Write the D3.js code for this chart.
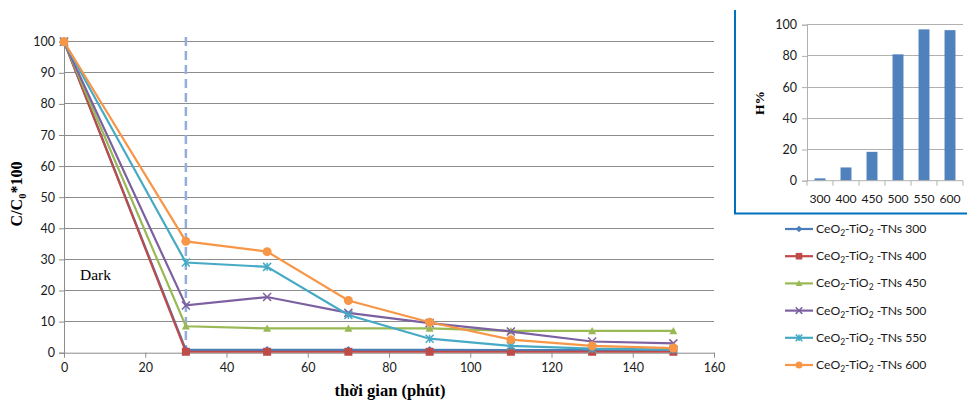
<!DOCTYPE html>
<html>
<head>
<meta charset="utf-8">
<script src="https://cdn.jsdelivr.net/npm/d3@7"></script>
<style>
  body { margin: 0; background: #fff; }
  svg { display: block; }
  .tick text { font-family: Lato, "Open Sans", sans-serif; font-size: 12.5px; fill: #1a1a1a; }
</style>
</head>
<body>
<svg id="chart" width="967" height="400"></svg>
<script>
// time points (phút)
const times = [0, 30, 50, 70, 90, 110, 130, 150];

const s300 = [100, 0.9, 0.9, 0.9, 0.9, 0.8, 0.8, 0.6];
const s400 = [100, 0.3, 0.3, 0.3, 0.3, 0.3, 0.3, 0.3];
const s450 = [100, 8.5, 7.8, 7.8, 7.8, 7.0, 7.0, 7.0];
const s500 = [100, 15.2, 17.9, 12.8, 9.5, 6.8, 3.6, 3.0];
const s550 = [100, 29.0, 27.6, 12.1, 4.5, 2.2, 1.3, 1.0];
const s600 = [100, 35.8, 32.5, 16.8, 9.8, 4.2, 2.2, 1.5];

const seriesNames = ["300", "400", "450", "500", "550", "600"];
const seriesColors = ["#4A7EBB", "#BE4B48", "#98B954", "#7D60A0", "#46AAC5", "#F79646"];
const seriesMarkers = ["diamond", "square", "triangle", "x", "asterisk", "circle"];

const xTicks = [0, 20, 40, 60, 80, 100, 120, 140, 160];
const yTicks = [0, 10, 20, 30, 40, 50, 60, 70, 80, 90, 100];

// inset: hiệu suất H% theo nhiệt độ
const insetCats = ["300", "400", "450", "500", "550", "600"];
const insetVals = [1.5, 8.5, 18.5, 81, 97, 96.5];
const insetTicks = [0, 20, 40, 60, 80, 100];

const series = [s300, s400, s450, s500, s550, s600].map((v, i) => ({
  name: seriesNames[i], color: seriesColors[i], marker: seriesMarkers[i],
  values: v.map((y, j) => ({ t: times[j], y: y }))
}));

const svg = d3.select("#chart");

const x = d3.scaleLinear().domain([0, 160]).range([64, 714]);
const y = d3.scaleLinear().domain([0, 100]).range([352.7, 41.7]);

// grid
svg.append("g")
  .selectAll("line")
  .data(yTicks.filter(d => d > 0))
  .join("line")
  .attr("x1", x(0)).attr("x2", x(160))
  .attr("y1", d => y(d)).attr("y2", d => y(d))
  .attr("stroke", "#8c8c8c").attr("stroke-width", 1)
  .attr("shape-rendering", "crispEdges");

const yAxis = svg.append("g")
  .attr("transform", `translate(${x(0)},0)`)
  .call(d3.axisLeft(y).tickValues(yTicks).tickSize(5).tickPadding(4));
yAxis.selectAll("line, path").attr("stroke", "#8c8c8c");

const xAxis = svg.append("g")
  .attr("transform", `translate(0,${y(0)})`)
  .call(d3.axisBottom(x).tickValues(xTicks).tickSize(5).tickPadding(5).tickSizeOuter(0));
xAxis.selectAll("line, path").attr("stroke", "#8c8c8c");

// dashed "dark" boundary
svg.append("line")
  .attr("x1", x(30)).attr("x2", x(30))
  .attr("y1", 37).attr("y2", y(0))
  .attr("stroke", "#94AEDA").attr("stroke-width", 2.5)
  .attr("stroke-dasharray", "9,5");

const line = d3.line().x(d => x(d.t)).y(d => y(d.y));

function drawMarker(g, type, color, size) {
  const s = size;
  if (type === "diamond") {
    g.append("path").attr("d", `M0,${-s}L${s},0L0,${s}L${-s},0Z`).attr("fill", color);
  } else if (type === "square") {
    g.append("rect").attr("x", -s).attr("y", -s).attr("width", 2 * s).attr("height", 2 * s).attr("fill", color);
  } else if (type === "triangle") {
    g.append("path").attr("d", `M0,${-s}L${s},${s * 0.8}L${-s},${s * 0.8}Z`).attr("fill", color);
  } else if (type === "x") {
    g.append("path").attr("d", `M${-s},${-s}L${s},${s}M${-s},${s}L${s},${-s}`)
      .attr("stroke", color).attr("stroke-width", 1.5);
  } else if (type === "asterisk") {
    g.append("path").attr("d", `M${-s},${-s}L${s},${s}M${-s},${s}L${s},${-s}M0,${-s}L0,${s}`)
      .attr("stroke", color).attr("stroke-width", 1.5);
  } else {
    g.append("circle").attr("r", s).attr("fill", color);
  }
}

series.forEach(s => {
  svg.append("path")
    .datum(s.values)
    .attr("fill", "none")
    .attr("stroke", s.color)
    .attr("stroke-width", 2.2)
    .attr("d", line);
  s.values.forEach(d => {
    const g = svg.append("g").attr("transform", `translate(${x(d.t)},${y(d.y)})`);
    drawMarker(g, s.marker, s.color, s.marker === "circle" ? 4.5 : 4);
  });
});

svg.append("text")
  .attr("x", 80).attr("y", 280)
  .attr("font-family", "'Liberation Serif', 'DejaVu Serif', serif")
  .attr("font-size", 15.5)
  .text("Dark");

// axis titles
const yTitle = svg.append("text")
  .attr("transform", "translate(22,194) rotate(-90)")
  .attr("text-anchor", "middle")
  .attr("font-family", "'Liberation Serif', serif")
  .attr("font-weight", "bold")
  .attr("font-size", 16);
yTitle.append("tspan").text("C/C");
yTitle.append("tspan").attr("font-size", 10.5).attr("dy", 4).text("0");
yTitle.append("tspan").attr("dy", -4).text("*100");

svg.append("text")
  .attr("x", 390).attr("y", 396)
  .attr("text-anchor", "middle")
  .attr("font-family", "'Liberation Serif', serif")
  .attr("font-weight", "bold")
  .attr("font-size", 16.5)
  .text("thời gian (phút)");

// legend
const legend = svg.append("g");
series.forEach((s, i) => {
  const ly = 229 + i * 27.2;
  const g = legend.append("g").attr("transform", `translate(785,${ly})`);
  g.append("line").attr("x1", 0).attr("x2", 28).attr("stroke", s.color).attr("stroke-width", 2.2);
  const mg = g.append("g").attr("transform", "translate(14,0)");
  drawMarker(mg, s.marker, s.color, s.marker === "circle" ? 3.5 : 3.3);
  const t = g.append("text").attr("x", 31).attr("y", 4)
    .attr("font-family", "Lato, 'Open Sans', sans-serif").attr("font-size", 12.2).attr("fill", "#1a1a1a");
  t.append("tspan").text("CeO");
  t.append("tspan").attr("font-size", 8.5).attr("dy", 3).text("2");
  t.append("tspan").attr("dy", -3).text("-TiO");
  t.append("tspan").attr("font-size", 8.5).attr("dy", 3).text("2");
  t.append("tspan").attr("dy", -3).text(" -TNs " + s.name);
});

// inset bar chart
const inset = svg.append("g");
inset.append("path")
  .attr("d", "M735,10V213.5H967")
  .attr("fill", "none").attr("stroke", "#0070C0").attr("stroke-width", 2);

const bx = d3.scaleBand().domain(insetCats).range([807, 963]).paddingInner(0.58).paddingOuter(0.29);
const by = d3.scaleLinear().domain([0, 100]).range([180.7, 24.7]);

inset.append("g")
  .selectAll("line")
  .data(insetTicks.filter(d => d > 0))
  .join("line")
  .attr("x1", 807).attr("x2", 963)
  .attr("y1", d => by(d)).attr("y2", d => by(d))
  .attr("stroke", "#b0b0b0").attr("shape-rendering", "crispEdges");

const iy = inset.append("g").attr("transform", "translate(807,0)")
  .call(d3.axisLeft(by).tickValues(insetTicks).tickSize(5).tickPadding(5));
iy.selectAll("line, path").attr("stroke", "#b0b0b0");

inset.selectAll("rect.bar")
  .data(insetVals)
  .join("rect")
  .attr("class", "bar")
  .attr("x", (d, i) => bx(insetCats[i]))
  .attr("width", bx.bandwidth())
  .attr("y", d => by(d))
  .attr("height", d => by(0) - by(d))
  .attr("fill", "#4F81BD");

const ix = inset.append("g").attr("transform", `translate(0,${by(0)})`);
ix.append("line").attr("x1", 807).attr("x2", 963).attr("stroke", "#b0b0b0");
ix.selectAll("line.tk")
  .data(d3.range(insetCats.length + 1))
  .join("line").attr("class", "tk")
  .attr("x1", i => 807 + i * (156 / insetCats.length))
  .attr("x2", i => 807 + i * (156 / insetCats.length))
  .attr("y1", 0).attr("y2", 5).attr("stroke", "#b0b0b0");
ix.selectAll("text")
  .data(insetCats)
  .join("text")
  .attr("x", d => bx(d) + bx.bandwidth() / 2)
  .attr("y", 22)
  .attr("text-anchor", "middle")
  .attr("font-family", "Lato, 'Open Sans', sans-serif")
  .attr("font-size", 12.2).attr("fill", "#1a1a1a")
  .text(d => d);

inset.append("text")
  .attr("transform", "translate(764,103) rotate(-90)")
  .attr("text-anchor", "middle")
  .attr("font-family", "'Liberation Serif', serif")
  .attr("font-weight", "bold")
  .attr("font-size", 13.5)
  .text("H%");
</script>
</body>
</html>
